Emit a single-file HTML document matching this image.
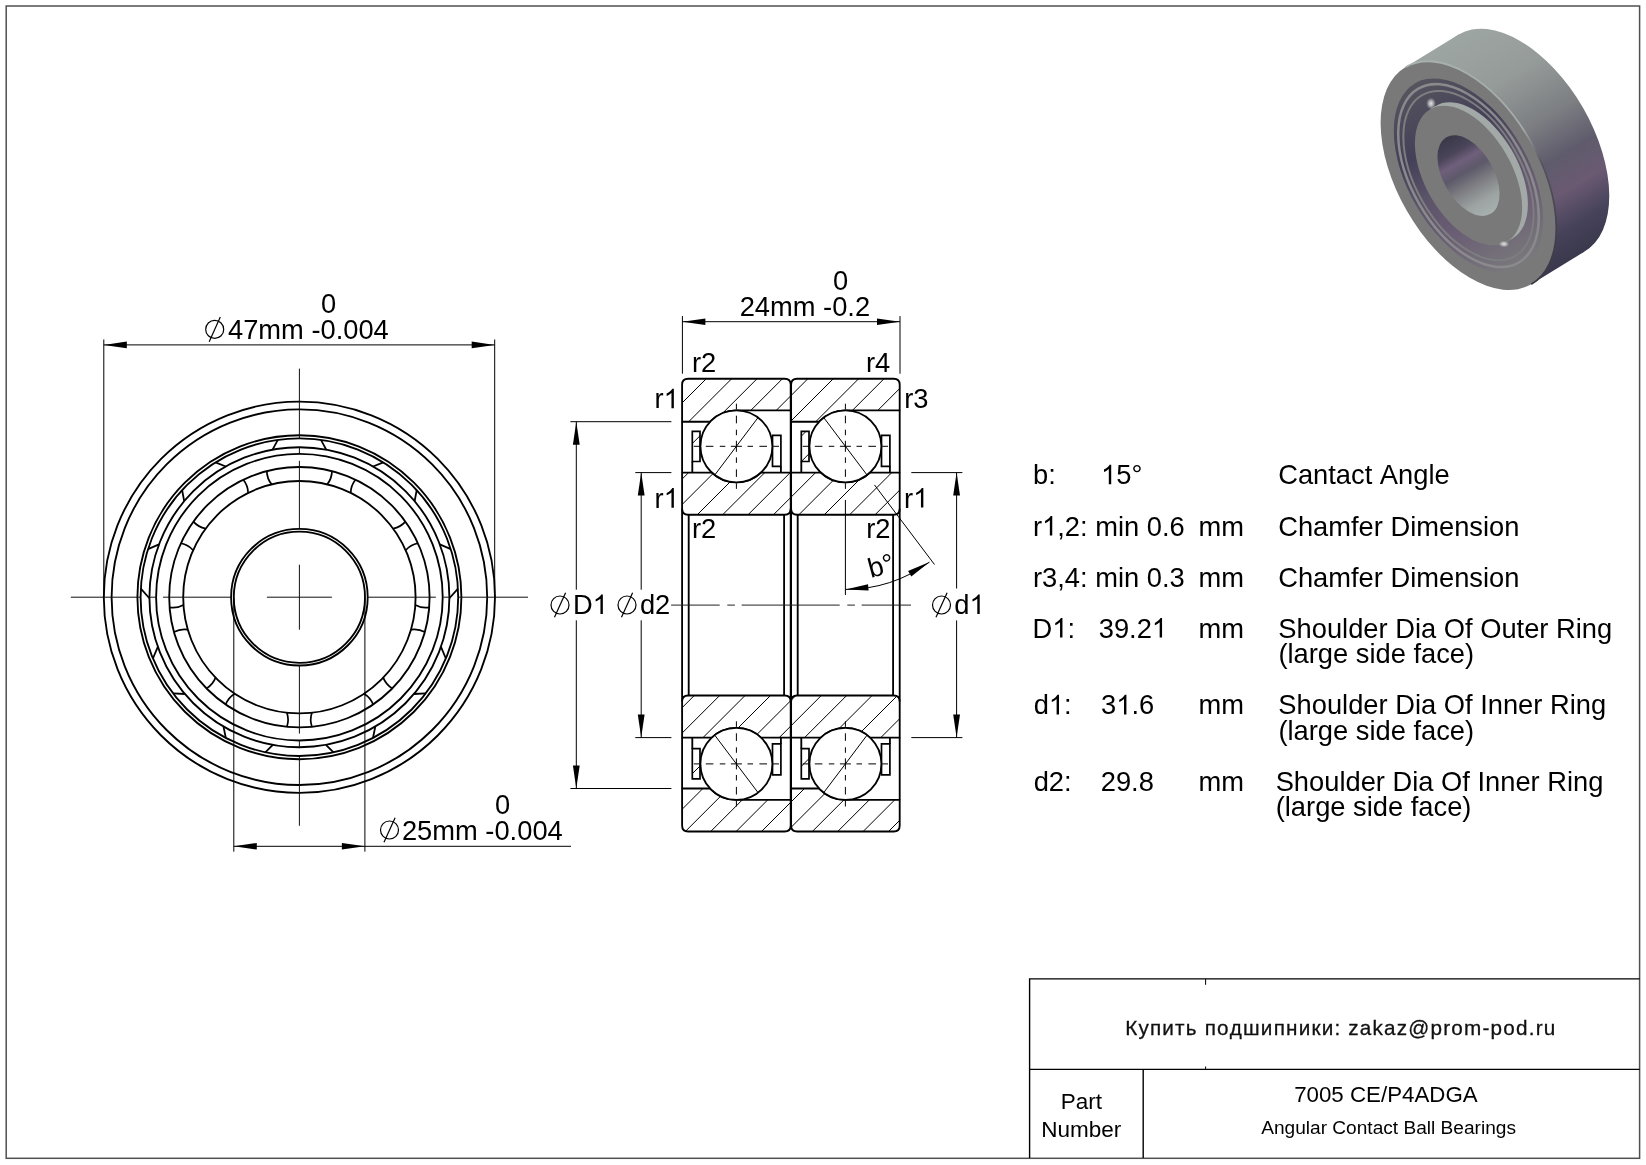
<!DOCTYPE html><html><head><meta charset="utf-8"><title>7005 CE/P4ADGA</title>
<style>html,body{margin:0;padding:0;background:#fff;}body{width:1646px;height:1165px;overflow:hidden;}svg{display:block;will-change:transform;font-kerning:none;font-family:"Liberation Sans",sans-serif;}</style></head><body>
<svg width="1646" height="1165" viewBox="0 0 1646 1165">
<rect x="0" y="0" width="1646" height="1165" fill="#fff"/>
<rect x="6.2" y="6" width="1633.4" height="1152.3" fill="none" stroke="#505050" stroke-width="1.5"/>
<circle cx="299.4" cy="597.2" r="195.6" fill="none" stroke="#000" stroke-width="1.85"/>
<circle cx="299.4" cy="597.2" r="187.8" fill="none" stroke="#000" stroke-width="1.85"/>
<circle cx="299.4" cy="597.2" r="162.0" fill="none" stroke="#000" stroke-width="1.85"/>
<circle cx="299.4" cy="597.2" r="158.8" fill="none" stroke="#000" stroke-width="1.85"/>
<circle cx="299.4" cy="597.2" r="150.0" fill="none" stroke="#000" stroke-width="1.85"/>
<circle cx="299.4" cy="597.2" r="143.3" fill="none" stroke="#000" stroke-width="1.85"/>
<circle cx="299.4" cy="597.2" r="130.2" fill="none" stroke="#000" stroke-width="1.85"/>
<circle cx="299.4" cy="597.2" r="116.2" fill="none" stroke="#000" stroke-width="1.85"/>
<circle cx="299.4" cy="597.2" r="68.3" fill="none" stroke="#000" stroke-width="1.85"/>
<circle cx="299.4" cy="597.2" r="65.6" fill="none" stroke="#000" stroke-width="1.85"/>
<line x1="272.58" y1="449.62" x2="277.85" y2="439.87" stroke="#000" stroke-width="1.8" />
<line x1="225.76" y1="466.52" x2="215.48" y2="462.38" stroke="#000" stroke-width="1.8" />
<line x1="184.16" y1="501.18" x2="182.13" y2="490.12" stroke="#000" stroke-width="1.8" />
<line x1="158.99" y1="544.42" x2="148.03" y2="549.18" stroke="#000" stroke-width="1.8" />
<line x1="149.4" y1="598.25" x2="140.83" y2="588.61" stroke="#000" stroke-width="1.8" />
<line x1="157.83" y1="646.78" x2="152.9" y2="658.48" stroke="#000" stroke-width="1.8" />
<line x1="184.83" y1="694.02" x2="173.08" y2="693.43" stroke="#000" stroke-width="1.8" />
<line x1="223.49" y1="726.58" x2="225.83" y2="737.93" stroke="#000" stroke-width="1.8" />
<line x1="272.84" y1="744.83" x2="265.3" y2="752.3" stroke="#000" stroke-width="1.8" />
<line x1="326.22" y1="449.62" x2="320.95" y2="439.87" stroke="#000" stroke-width="1.8" />
<line x1="373.04" y1="466.52" x2="383.32" y2="462.38" stroke="#000" stroke-width="1.8" />
<line x1="414.64" y1="501.18" x2="416.67" y2="490.12" stroke="#000" stroke-width="1.8" />
<line x1="439.81" y1="544.42" x2="450.77" y2="549.18" stroke="#000" stroke-width="1.8" />
<line x1="449.4" y1="598.25" x2="457.97" y2="588.61" stroke="#000" stroke-width="1.8" />
<line x1="440.97" y1="646.78" x2="445.9" y2="658.48" stroke="#000" stroke-width="1.8" />
<line x1="413.97" y1="694.02" x2="425.72" y2="693.43" stroke="#000" stroke-width="1.8" />
<line x1="375.31" y1="726.58" x2="372.97" y2="737.93" stroke="#000" stroke-width="1.8" />
<line x1="325.96" y1="744.83" x2="333.5" y2="752.3" stroke="#000" stroke-width="1.8" />
<path d="M327.17,484.37 Q331.83,478.57 331.98,471.14" fill="none" stroke="#000" stroke-width="1.7"/>
<path d="M350.66,492.92 Q350.81,485.48 355.47,479.69" fill="none" stroke="#000" stroke-width="1.7"/>
<path d="M393.2,528.61 Q400.49,527.17 405.39,521.58" fill="none" stroke="#000" stroke-width="1.7"/>
<path d="M405.7,550.26 Q410.59,544.67 417.89,543.23" fill="none" stroke="#000" stroke-width="1.7"/>
<path d="M415.34,604.95 Q421.85,608.54 429.2,607.39" fill="none" stroke="#000" stroke-width="1.7"/>
<path d="M411,629.57 Q418.35,628.43 424.86,632.01" fill="none" stroke="#000" stroke-width="1.7"/>
<path d="M383.23,677.66 Q385.92,684.6 392.28,688.44" fill="none" stroke="#000" stroke-width="1.7"/>
<path d="M364.08,693.73 Q370.44,697.58 373.13,704.51" fill="none" stroke="#000" stroke-width="1.7"/>
<path d="M311.9,712.73 Q309.5,719.76 311.9,726.8" fill="none" stroke="#000" stroke-width="1.7"/>
<path d="M286.9,712.73 Q289.3,719.76 286.9,726.8" fill="none" stroke="#000" stroke-width="1.7"/>
<path d="M234.72,693.73 Q228.36,697.58 225.67,704.51" fill="none" stroke="#000" stroke-width="1.7"/>
<path d="M215.57,677.66 Q212.88,684.6 206.52,688.44" fill="none" stroke="#000" stroke-width="1.7"/>
<path d="M187.8,629.57 Q180.45,628.43 173.94,632.01" fill="none" stroke="#000" stroke-width="1.7"/>
<path d="M183.46,604.95 Q176.95,608.54 169.6,607.39" fill="none" stroke="#000" stroke-width="1.7"/>
<path d="M193.1,550.26 Q188.21,544.67 180.91,543.23" fill="none" stroke="#000" stroke-width="1.7"/>
<path d="M205.6,528.61 Q198.31,527.17 193.41,521.58" fill="none" stroke="#000" stroke-width="1.7"/>
<path d="M248.14,492.92 Q247.99,485.48 243.33,479.69" fill="none" stroke="#000" stroke-width="1.7"/>
<path d="M271.63,484.37 Q266.97,478.57 266.82,471.14" fill="none" stroke="#000" stroke-width="1.7"/>
<line x1="367.7" y1="597.2" x2="435.8" y2="597.2" stroke="#111" stroke-width="1.0" />
<line x1="443.4" y1="597.2" x2="449.4" y2="597.2" stroke="#111" stroke-width="1.0" />
<line x1="458.2" y1="597.2" x2="528" y2="597.2" stroke="#111" stroke-width="1.0" />
<line x1="231.1" y1="597.2" x2="163" y2="597.2" stroke="#111" stroke-width="1.0" />
<line x1="155.4" y1="597.2" x2="149.4" y2="597.2" stroke="#111" stroke-width="1.0" />
<line x1="140.6" y1="597.2" x2="70.8" y2="597.2" stroke="#111" stroke-width="1.0" />
<line x1="299.4" y1="665.5" x2="299.4" y2="733.6" stroke="#111" stroke-width="1.0" />
<line x1="299.4" y1="741.2" x2="299.4" y2="747.2" stroke="#111" stroke-width="1.0" />
<line x1="299.4" y1="756" x2="299.4" y2="825.8" stroke="#111" stroke-width="1.0" />
<line x1="299.4" y1="528.9" x2="299.4" y2="460.8" stroke="#111" stroke-width="1.0" />
<line x1="299.4" y1="453.2" x2="299.4" y2="447.2" stroke="#111" stroke-width="1.0" />
<line x1="299.4" y1="438.4" x2="299.4" y2="368.6" stroke="#111" stroke-width="1.0" />
<line x1="266.9" y1="597.2" x2="331.9" y2="597.2" stroke="#111" stroke-width="1.0" />
<line x1="299.4" y1="564.7" x2="299.4" y2="629.7" stroke="#111" stroke-width="1.0" />
<line x1="103.8" y1="339.5" x2="103.8" y2="597.2" stroke="#000" stroke-width="1.0" />
<line x1="494.7" y1="339.5" x2="494.7" y2="597.2" stroke="#000" stroke-width="1.0" />
<line x1="103.8" y1="344.9" x2="494.7" y2="344.9" stroke="#000" stroke-width="1.0" />
<polygon points="103.8,344.9 126.8,341.6 126.8,348.2" fill="#000"/>
<polygon points="494.7,344.9 471.7,348.2 471.7,341.6" fill="#000"/>
<circle cx="214.7" cy="329.4" r="9.0" fill="none" stroke="#000" stroke-width="1.2"/>
<line x1="209.2" y1="341.7" x2="220.3" y2="317.1" stroke="#000" stroke-width="1.2" />
<text x="227.97" y="339" font-size="27.3" fill="#000" >47mm -0.004</text>
<text x="320.93" y="312.9" font-size="27.3" fill="#000" >0</text>
<line x1="233.8" y1="597.2" x2="233.8" y2="851.7" stroke="#000" stroke-width="1.0" />
<line x1="364.9" y1="597.2" x2="364.9" y2="851.7" stroke="#000" stroke-width="1.0" />
<line x1="233.8" y1="846.3" x2="571" y2="846.3" stroke="#000" stroke-width="1.0" />
<polygon points="233.8,846.3 256.8,843 256.8,849.6" fill="#000"/>
<polygon points="364.9,846.3 341.9,849.6 341.9,843" fill="#000"/>
<circle cx="389.5" cy="830" r="9.0" fill="none" stroke="#000" stroke-width="1.2"/>
<line x1="384" y1="842.3" x2="395.1" y2="817.7" stroke="#000" stroke-width="1.2" />
<text x="401.93" y="839.5" font-size="27.3" fill="#000" >25mm -0.004</text>
<text x="494.93" y="813.9" font-size="27.3" fill="#000" >0</text>
<clipPath id="hc1"><path d="M682.1,421.7 L682.1,384.7 Q682.1,378.7 688.1,378.7 L784.7,378.7 Q790.7,378.7 790.7,384.7 L790.7,410.3 L736.4,410.3 A36.0,36.0 0 0 0 710.12,421.7 Z"/></clipPath>
<g clip-path="url(#hc1)" stroke="#000" stroke-width="1">
<line x1="661.3" y1="423.7" x2="708.3" y2="376.7"/>
<line x1="686.7" y1="423.7" x2="733.7" y2="376.7"/>
<line x1="712.1" y1="423.7" x2="759.1" y2="376.7"/>
<line x1="737.5" y1="423.7" x2="784.5" y2="376.7"/>
<line x1="762.9" y1="423.7" x2="809.9" y2="376.7"/>
<line x1="788.3" y1="423.7" x2="835.3" y2="376.7"/>
</g>
<path d="M682.1,421.7 L682.1,384.7 Q682.1,378.7 688.1,378.7 L784.7,378.7 Q790.7,378.7 790.7,384.7 L790.7,410.3 L736.4,410.3 A36.0,36.0 0 0 0 710.12,421.7 Z" fill="none" stroke="#000" stroke-width="1.85" stroke-linejoin="round"/>
<clipPath id="hc2"><path d="M682.1,472.6 L711.82,472.6 A36.0,36.0 0 0 0 760.98,472.6 L790.7,472.6 L790.7,508.7 Q790.7,514.7 784.7,514.7 L688.1,514.7 Q682.1,514.7 682.1,508.7 Z"/></clipPath>
<g clip-path="url(#hc2)" stroke="#000" stroke-width="1">
<line x1="644.5" y1="516.7" x2="690.6" y2="470.6"/>
<line x1="669.9" y1="516.7" x2="716" y2="470.6"/>
<line x1="695.3" y1="516.7" x2="741.4" y2="470.6"/>
<line x1="720.7" y1="516.7" x2="766.8" y2="470.6"/>
<line x1="746.1" y1="516.7" x2="792.2" y2="470.6"/>
<line x1="771.5" y1="516.7" x2="817.6" y2="470.6"/>
</g>
<path d="M682.1,472.6 L711.82,472.6 A36.0,36.0 0 0 0 760.98,472.6 L790.7,472.6 L790.7,508.7 Q790.7,514.7 784.7,514.7 L688.1,514.7 Q682.1,514.7 682.1,508.7 Z" fill="none" stroke="#000" stroke-width="1.85" stroke-linejoin="round"/>
<clipPath id="hc3"><path d="M692.3,431.4 H700 V461.5 H692.3 Z"/></clipPath>
<g clip-path="url(#hc3)" stroke="#000" stroke-width="1">
<line x1="672.3" y1="463.5" x2="706.4" y2="429.4"/>
<line x1="697.7" y1="463.5" x2="731.8" y2="429.4"/>
</g>
<path d="M692.3,431.4 H700 V461.5 H692.3 Z" fill="none" stroke="#000" stroke-width="1.7"/>
<line x1="692.3" y1="461.5" x2="692.3" y2="472.6" stroke="#000" stroke-width="1.85" />
<path d="M772.5,435.3 H780.9 V466.3 H772.5 Z" fill="none" stroke="#000" stroke-width="1.7"/>
<line x1="780.9" y1="466.3" x2="780.9" y2="472.6" stroke="#000" stroke-width="1.85" />
<circle cx="736.4" cy="446.3" r="36.0" fill="#fff" stroke="#000" stroke-width="1.85"/>
<line x1="693.8" y1="446.3" x2="699.4" y2="446.3" stroke="#000" stroke-width="1.0" />
<line x1="736.4" y1="403.7" x2="736.4" y2="409.3" stroke="#000" stroke-width="1.0" />
<line x1="705.8" y1="446.3" x2="713.4" y2="446.3" stroke="#000" stroke-width="1.0" />
<line x1="736.4" y1="415.7" x2="736.4" y2="423.3" stroke="#000" stroke-width="1.0" />
<line x1="719.8" y1="446.3" x2="725.3" y2="446.3" stroke="#000" stroke-width="1.0" />
<line x1="736.4" y1="429.7" x2="736.4" y2="435.2" stroke="#000" stroke-width="1.0" />
<line x1="730.9" y1="446.3" x2="741.9" y2="446.3" stroke="#000" stroke-width="1.0" />
<line x1="736.4" y1="440.8" x2="736.4" y2="451.8" stroke="#000" stroke-width="1.0" />
<line x1="747.5" y1="446.3" x2="753" y2="446.3" stroke="#000" stroke-width="1.0" />
<line x1="736.4" y1="457.4" x2="736.4" y2="462.9" stroke="#000" stroke-width="1.0" />
<line x1="759.4" y1="446.3" x2="767" y2="446.3" stroke="#000" stroke-width="1.0" />
<line x1="736.4" y1="469.3" x2="736.4" y2="476.9" stroke="#000" stroke-width="1.0" />
<line x1="773.4" y1="446.3" x2="779" y2="446.3" stroke="#000" stroke-width="1.0" />
<line x1="736.4" y1="483.3" x2="736.4" y2="488.9" stroke="#000" stroke-width="1.0" />
<line x1="682.1" y1="421.7" x2="682.1" y2="472.6" stroke="#000" stroke-width="1.85" />
<line x1="790.7" y1="410.3" x2="790.7" y2="472.6" stroke="#000" stroke-width="1.85" />
<line x1="682.1" y1="508.7" x2="682.1" y2="701.5" stroke="#000" stroke-width="1.85" />
<line x1="688.7" y1="514.7" x2="688.7" y2="695.5" stroke="#000" stroke-width="1.85" />
<line x1="784.1" y1="514.7" x2="784.1" y2="695.5" stroke="#000" stroke-width="1.85" />
<line x1="790.7" y1="508.7" x2="790.7" y2="701.5" stroke="#000" stroke-width="1.85" />
<clipPath id="hc4"><path d="M682.1,788.5 L682.1,825.5 Q682.1,831.5 688.1,831.5 L784.7,831.5 Q790.7,831.5 790.7,825.5 L790.7,799.9 L736.4,799.9 A36.0,36.0 0 0 1 710.12,788.5 Z"/></clipPath>
<g clip-path="url(#hc4)" stroke="#000" stroke-width="1">
<line x1="657.9" y1="833.5" x2="704.9" y2="786.5"/>
<line x1="683.3" y1="833.5" x2="730.3" y2="786.5"/>
<line x1="708.7" y1="833.5" x2="755.7" y2="786.5"/>
<line x1="734.1" y1="833.5" x2="781.1" y2="786.5"/>
<line x1="759.5" y1="833.5" x2="806.5" y2="786.5"/>
<line x1="784.9" y1="833.5" x2="831.9" y2="786.5"/>
</g>
<path d="M682.1,788.5 L682.1,825.5 Q682.1,831.5 688.1,831.5 L784.7,831.5 Q790.7,831.5 790.7,825.5 L790.7,799.9 L736.4,799.9 A36.0,36.0 0 0 1 710.12,788.5 Z" fill="none" stroke="#000" stroke-width="1.85" stroke-linejoin="round"/>
<clipPath id="hc5"><path d="M682.1,737.6 L711.82,737.6 A36.0,36.0 0 0 1 760.98,737.6 L790.7,737.6 L790.7,701.5 Q790.7,695.5 784.7,695.5 L688.1,695.5 Q682.1,695.5 682.1,701.5 Z"/></clipPath>
<g clip-path="url(#hc5)" stroke="#000" stroke-width="1">
<line x1="650.2" y1="739.6" x2="696.3" y2="693.5"/>
<line x1="675.6" y1="739.6" x2="721.7" y2="693.5"/>
<line x1="701" y1="739.6" x2="747.1" y2="693.5"/>
<line x1="726.4" y1="739.6" x2="772.5" y2="693.5"/>
<line x1="751.8" y1="739.6" x2="797.9" y2="693.5"/>
<line x1="777.2" y1="739.6" x2="823.3" y2="693.5"/>
</g>
<path d="M682.1,737.6 L711.82,737.6 A36.0,36.0 0 0 1 760.98,737.6 L790.7,737.6 L790.7,701.5 Q790.7,695.5 784.7,695.5 L688.1,695.5 Q682.1,695.5 682.1,701.5 Z" fill="none" stroke="#000" stroke-width="1.85" stroke-linejoin="round"/>
<clipPath id="hc6"><path d="M692.3,748.7 H700 V778.8 H692.3 Z"/></clipPath>
<g clip-path="url(#hc6)" stroke="#000" stroke-width="1">
<line x1="685.2" y1="780.8" x2="719.3" y2="746.7"/>
</g>
<path d="M692.3,748.7 H700 V778.8 H692.3 Z" fill="none" stroke="#000" stroke-width="1.7"/>
<line x1="692.3" y1="748.7" x2="692.3" y2="737.6" stroke="#000" stroke-width="1.85" />
<path d="M772.5,743.9 H780.9 V774.9 H772.5 Z" fill="none" stroke="#000" stroke-width="1.7"/>
<line x1="780.9" y1="743.9" x2="780.9" y2="737.6" stroke="#000" stroke-width="1.85" />
<circle cx="736.4" cy="763.9" r="36.0" fill="#fff" stroke="#000" stroke-width="1.85"/>
<line x1="693.8" y1="763.9" x2="699.4" y2="763.9" stroke="#000" stroke-width="1.0" />
<line x1="736.4" y1="721.3" x2="736.4" y2="726.9" stroke="#000" stroke-width="1.0" />
<line x1="705.8" y1="763.9" x2="713.4" y2="763.9" stroke="#000" stroke-width="1.0" />
<line x1="736.4" y1="733.3" x2="736.4" y2="740.9" stroke="#000" stroke-width="1.0" />
<line x1="719.8" y1="763.9" x2="725.3" y2="763.9" stroke="#000" stroke-width="1.0" />
<line x1="736.4" y1="747.3" x2="736.4" y2="752.8" stroke="#000" stroke-width="1.0" />
<line x1="730.9" y1="763.9" x2="741.9" y2="763.9" stroke="#000" stroke-width="1.0" />
<line x1="736.4" y1="758.4" x2="736.4" y2="769.4" stroke="#000" stroke-width="1.0" />
<line x1="747.5" y1="763.9" x2="753" y2="763.9" stroke="#000" stroke-width="1.0" />
<line x1="736.4" y1="775" x2="736.4" y2="780.5" stroke="#000" stroke-width="1.0" />
<line x1="759.4" y1="763.9" x2="767" y2="763.9" stroke="#000" stroke-width="1.0" />
<line x1="736.4" y1="786.9" x2="736.4" y2="794.5" stroke="#000" stroke-width="1.0" />
<line x1="773.4" y1="763.9" x2="779" y2="763.9" stroke="#000" stroke-width="1.0" />
<line x1="736.4" y1="800.9" x2="736.4" y2="806.5" stroke="#000" stroke-width="1.0" />
<line x1="682.1" y1="788.5" x2="682.1" y2="737.6" stroke="#000" stroke-width="1.85" />
<line x1="790.7" y1="799.9" x2="790.7" y2="737.6" stroke="#000" stroke-width="1.85" />
<clipPath id="hc7"><path d="M791.1,421.7 L791.1,384.7 Q791.1,378.7 797.1,378.7 L893.7,378.7 Q899.7,378.7 899.7,384.7 L899.7,410.3 L845.4,410.3 A36.0,36.0 0 0 0 819.12,421.7 Z"/></clipPath>
<g clip-path="url(#hc7)" stroke="#000" stroke-width="1">
<line x1="762.9" y1="423.7" x2="809.9" y2="376.7"/>
<line x1="788.3" y1="423.7" x2="835.3" y2="376.7"/>
<line x1="813.7" y1="423.7" x2="860.7" y2="376.7"/>
<line x1="839.1" y1="423.7" x2="886.1" y2="376.7"/>
<line x1="864.5" y1="423.7" x2="911.5" y2="376.7"/>
<line x1="889.9" y1="423.7" x2="936.9" y2="376.7"/>
</g>
<path d="M791.1,421.7 L791.1,384.7 Q791.1,378.7 797.1,378.7 L893.7,378.7 Q899.7,378.7 899.7,384.7 L899.7,410.3 L845.4,410.3 A36.0,36.0 0 0 0 819.12,421.7 Z" fill="none" stroke="#000" stroke-width="1.85" stroke-linejoin="round"/>
<clipPath id="hc8"><path d="M791.1,472.6 L820.82,472.6 A36.0,36.0 0 0 0 869.98,472.6 L899.7,472.6 L899.7,508.7 Q899.7,514.7 893.7,514.7 L797.1,514.7 Q791.1,514.7 791.1,508.7 Z"/></clipPath>
<g clip-path="url(#hc8)" stroke="#000" stroke-width="1">
<line x1="771.5" y1="516.7" x2="817.6" y2="470.6"/>
<line x1="796.9" y1="516.7" x2="843" y2="470.6"/>
<line x1="822.3" y1="516.7" x2="868.4" y2="470.6"/>
<line x1="847.7" y1="516.7" x2="893.8" y2="470.6"/>
<line x1="873.1" y1="516.7" x2="919.2" y2="470.6"/>
</g>
<path d="M791.1,472.6 L820.82,472.6 A36.0,36.0 0 0 0 869.98,472.6 L899.7,472.6 L899.7,508.7 Q899.7,514.7 893.7,514.7 L797.1,514.7 Q791.1,514.7 791.1,508.7 Z" fill="none" stroke="#000" stroke-width="1.85" stroke-linejoin="round"/>
<clipPath id="hc9"><path d="M801.3,431.4 H809 V461.5 H801.3 Z"/></clipPath>
<g clip-path="url(#hc9)" stroke="#000" stroke-width="1">
<line x1="773.9" y1="463.5" x2="808" y2="429.4"/>
<line x1="799.3" y1="463.5" x2="833.4" y2="429.4"/>
</g>
<path d="M801.3,431.4 H809 V461.5 H801.3 Z" fill="none" stroke="#000" stroke-width="1.7"/>
<line x1="801.3" y1="461.5" x2="801.3" y2="472.6" stroke="#000" stroke-width="1.85" />
<path d="M881.5,435.3 H889.9 V466.3 H881.5 Z" fill="none" stroke="#000" stroke-width="1.7"/>
<line x1="889.9" y1="466.3" x2="889.9" y2="472.6" stroke="#000" stroke-width="1.85" />
<circle cx="845.4" cy="446.3" r="36.0" fill="#fff" stroke="#000" stroke-width="1.85"/>
<line x1="802.8" y1="446.3" x2="808.4" y2="446.3" stroke="#000" stroke-width="1.0" />
<line x1="845.4" y1="403.7" x2="845.4" y2="409.3" stroke="#000" stroke-width="1.0" />
<line x1="814.8" y1="446.3" x2="822.4" y2="446.3" stroke="#000" stroke-width="1.0" />
<line x1="845.4" y1="415.7" x2="845.4" y2="423.3" stroke="#000" stroke-width="1.0" />
<line x1="828.8" y1="446.3" x2="834.3" y2="446.3" stroke="#000" stroke-width="1.0" />
<line x1="845.4" y1="429.7" x2="845.4" y2="435.2" stroke="#000" stroke-width="1.0" />
<line x1="839.9" y1="446.3" x2="850.9" y2="446.3" stroke="#000" stroke-width="1.0" />
<line x1="845.4" y1="440.8" x2="845.4" y2="451.8" stroke="#000" stroke-width="1.0" />
<line x1="856.5" y1="446.3" x2="862" y2="446.3" stroke="#000" stroke-width="1.0" />
<line x1="845.4" y1="457.4" x2="845.4" y2="462.9" stroke="#000" stroke-width="1.0" />
<line x1="868.4" y1="446.3" x2="876" y2="446.3" stroke="#000" stroke-width="1.0" />
<line x1="845.4" y1="469.3" x2="845.4" y2="476.9" stroke="#000" stroke-width="1.0" />
<line x1="882.4" y1="446.3" x2="888" y2="446.3" stroke="#000" stroke-width="1.0" />
<line x1="845.4" y1="483.3" x2="845.4" y2="488.9" stroke="#000" stroke-width="1.0" />
<line x1="791.1" y1="421.7" x2="791.1" y2="472.6" stroke="#000" stroke-width="1.85" />
<line x1="899.7" y1="410.3" x2="899.7" y2="472.6" stroke="#000" stroke-width="1.85" />
<line x1="791.1" y1="508.7" x2="791.1" y2="701.5" stroke="#000" stroke-width="1.85" />
<line x1="797.7" y1="514.7" x2="797.7" y2="695.5" stroke="#000" stroke-width="1.85" />
<line x1="893.1" y1="514.7" x2="893.1" y2="695.5" stroke="#000" stroke-width="1.85" />
<line x1="899.7" y1="508.7" x2="899.7" y2="701.5" stroke="#000" stroke-width="1.85" />
<clipPath id="hc10"><path d="M791.1,788.5 L791.1,825.5 Q791.1,831.5 797.1,831.5 L893.7,831.5 Q899.7,831.5 899.7,825.5 L899.7,799.9 L845.4,799.9 A36.0,36.0 0 0 1 819.12,788.5 Z"/></clipPath>
<g clip-path="url(#hc10)" stroke="#000" stroke-width="1">
<line x1="759.5" y1="833.5" x2="806.5" y2="786.5"/>
<line x1="784.9" y1="833.5" x2="831.9" y2="786.5"/>
<line x1="810.3" y1="833.5" x2="857.3" y2="786.5"/>
<line x1="835.7" y1="833.5" x2="882.7" y2="786.5"/>
<line x1="861.1" y1="833.5" x2="908.1" y2="786.5"/>
<line x1="886.5" y1="833.5" x2="933.5" y2="786.5"/>
</g>
<path d="M791.1,788.5 L791.1,825.5 Q791.1,831.5 797.1,831.5 L893.7,831.5 Q899.7,831.5 899.7,825.5 L899.7,799.9 L845.4,799.9 A36.0,36.0 0 0 1 819.12,788.5 Z" fill="none" stroke="#000" stroke-width="1.85" stroke-linejoin="round"/>
<clipPath id="hc11"><path d="M791.1,737.6 L820.82,737.6 A36.0,36.0 0 0 1 869.98,737.6 L899.7,737.6 L899.7,701.5 Q899.7,695.5 893.7,695.5 L797.1,695.5 Q791.1,695.5 791.1,701.5 Z"/></clipPath>
<g clip-path="url(#hc11)" stroke="#000" stroke-width="1">
<line x1="751.8" y1="739.6" x2="797.9" y2="693.5"/>
<line x1="777.2" y1="739.6" x2="823.3" y2="693.5"/>
<line x1="802.6" y1="739.6" x2="848.7" y2="693.5"/>
<line x1="828" y1="739.6" x2="874.1" y2="693.5"/>
<line x1="853.4" y1="739.6" x2="899.5" y2="693.5"/>
<line x1="878.8" y1="739.6" x2="924.9" y2="693.5"/>
</g>
<path d="M791.1,737.6 L820.82,737.6 A36.0,36.0 0 0 1 869.98,737.6 L899.7,737.6 L899.7,701.5 Q899.7,695.5 893.7,695.5 L797.1,695.5 Q791.1,695.5 791.1,701.5 Z" fill="none" stroke="#000" stroke-width="1.85" stroke-linejoin="round"/>
<clipPath id="hc12"><path d="M801.3,748.7 H809 V778.8 H801.3 Z"/></clipPath>
<g clip-path="url(#hc12)" stroke="#000" stroke-width="1">
<line x1="786.8" y1="780.8" x2="820.9" y2="746.7"/>
</g>
<path d="M801.3,748.7 H809 V778.8 H801.3 Z" fill="none" stroke="#000" stroke-width="1.7"/>
<line x1="801.3" y1="748.7" x2="801.3" y2="737.6" stroke="#000" stroke-width="1.85" />
<path d="M881.5,743.9 H889.9 V774.9 H881.5 Z" fill="none" stroke="#000" stroke-width="1.7"/>
<line x1="889.9" y1="743.9" x2="889.9" y2="737.6" stroke="#000" stroke-width="1.85" />
<circle cx="845.4" cy="763.9" r="36.0" fill="#fff" stroke="#000" stroke-width="1.85"/>
<line x1="802.8" y1="763.9" x2="808.4" y2="763.9" stroke="#000" stroke-width="1.0" />
<line x1="845.4" y1="721.3" x2="845.4" y2="726.9" stroke="#000" stroke-width="1.0" />
<line x1="814.8" y1="763.9" x2="822.4" y2="763.9" stroke="#000" stroke-width="1.0" />
<line x1="845.4" y1="733.3" x2="845.4" y2="740.9" stroke="#000" stroke-width="1.0" />
<line x1="828.8" y1="763.9" x2="834.3" y2="763.9" stroke="#000" stroke-width="1.0" />
<line x1="845.4" y1="747.3" x2="845.4" y2="752.8" stroke="#000" stroke-width="1.0" />
<line x1="839.9" y1="763.9" x2="850.9" y2="763.9" stroke="#000" stroke-width="1.0" />
<line x1="845.4" y1="758.4" x2="845.4" y2="769.4" stroke="#000" stroke-width="1.0" />
<line x1="856.5" y1="763.9" x2="862" y2="763.9" stroke="#000" stroke-width="1.0" />
<line x1="845.4" y1="775" x2="845.4" y2="780.5" stroke="#000" stroke-width="1.0" />
<line x1="868.4" y1="763.9" x2="876" y2="763.9" stroke="#000" stroke-width="1.0" />
<line x1="845.4" y1="786.9" x2="845.4" y2="794.5" stroke="#000" stroke-width="1.0" />
<line x1="882.4" y1="763.9" x2="888" y2="763.9" stroke="#000" stroke-width="1.0" />
<line x1="845.4" y1="800.9" x2="845.4" y2="806.5" stroke="#000" stroke-width="1.0" />
<line x1="791.1" y1="788.5" x2="791.1" y2="737.6" stroke="#000" stroke-width="1.85" />
<line x1="899.7" y1="799.9" x2="899.7" y2="737.6" stroke="#000" stroke-width="1.85" />
<line x1="714.73" y1="475.05" x2="758.07" y2="417.55" stroke="#000" stroke-width="1.0" />
<line x1="714.73" y1="735.15" x2="758.07" y2="792.65" stroke="#000" stroke-width="1.0" />
<line x1="823.73" y1="417.55" x2="867.07" y2="475.05" stroke="#000" stroke-width="1.0" />
<line x1="874.53" y1="484.95" x2="934.47" y2="564.5" stroke="#000" stroke-width="1.0" />
<line x1="823.73" y1="792.65" x2="867.07" y2="735.15" stroke="#000" stroke-width="1.0" />
<line x1="845.4" y1="500" x2="845.4" y2="595" stroke="#000" stroke-width="1.0" />
<path d="M845.4,589.4 A143.1,143.1 0 0 0 929.51,562.07" fill="none" stroke="#000" stroke-width="1"/>
<polygon points="845.4,589.4 868.03,584.2 868.59,590.57" fill="#000"/>
<polygon points="929.51,562.07 911.33,576.51 908.08,571" fill="#000"/>
<text x="0" y="0" font-size="27.3" fill="#000" transform="translate(870.7,578) rotate(-15)">b°</text>
<line x1="671.1" y1="605.1" x2="719.7" y2="605.1" stroke="#222" stroke-width="1.0" />
<line x1="727.3" y1="605.1" x2="734.9" y2="605.1" stroke="#222" stroke-width="1.0" />
<line x1="741.7" y1="605.1" x2="839.7" y2="605.1" stroke="#222" stroke-width="1.0" />
<line x1="847.3" y1="605.1" x2="854.9" y2="605.1" stroke="#222" stroke-width="1.0" />
<line x1="861.7" y1="605.1" x2="911" y2="605.1" stroke="#222" stroke-width="1.0" />
<line x1="570.4" y1="421.7" x2="671.4" y2="421.7" stroke="#000" stroke-width="1.0" />
<line x1="570.4" y1="788.5" x2="671.4" y2="788.5" stroke="#000" stroke-width="1.0" />
<line x1="576.3" y1="421.7" x2="576.3" y2="589.7" stroke="#000" stroke-width="1.0" />
<line x1="576.3" y1="620.3" x2="576.3" y2="788.5" stroke="#000" stroke-width="1.0" />
<polygon points="576.3,421.7 579.7,444.7 572.9,444.7" fill="#000"/>
<polygon points="576.3,788.5 572.9,765.5 579.7,765.5" fill="#000"/>
<line x1="635.3" y1="472.6" x2="671.4" y2="472.6" stroke="#000" stroke-width="1.0" />
<line x1="635.3" y1="737.6" x2="671.4" y2="737.6" stroke="#000" stroke-width="1.0" />
<line x1="641.2" y1="472.6" x2="641.2" y2="589.7" stroke="#000" stroke-width="1.0" />
<line x1="641.2" y1="620.3" x2="641.2" y2="737.6" stroke="#000" stroke-width="1.0" />
<polygon points="641.2,472.6 644.6,495.6 637.8,495.6" fill="#000"/>
<polygon points="641.2,737.6 637.8,714.6 644.6,714.6" fill="#000"/>
<line x1="911.3" y1="472.6" x2="962.4" y2="472.6" stroke="#000" stroke-width="1.0" />
<line x1="911.3" y1="737.6" x2="962.4" y2="737.6" stroke="#000" stroke-width="1.0" />
<line x1="956.6" y1="472.6" x2="956.6" y2="588.5" stroke="#000" stroke-width="1.0" />
<line x1="956.6" y1="620.4" x2="956.6" y2="737.6" stroke="#000" stroke-width="1.0" />
<polygon points="956.6,472.6 960,495.6 953.2,495.6" fill="#000"/>
<polygon points="956.6,737.6 953.2,714.6 960,714.6" fill="#000"/>
<circle cx="560" cy="605" r="9.0" fill="none" stroke="#000" stroke-width="1.2"/>
<line x1="554.5" y1="617.3" x2="565.6" y2="592.7" stroke="#000" stroke-width="1.2" />
<text x="572.96" y="614" font-size="27.3" fill="#000" >D</text>
<path d="M763,0L583,0L583,1147Q518,1085 412,1023Q306,961 222,930L222,1104Q373,1175 486,1276Q599,1377 646,1472L763,1472Z" fill="#000" transform="translate(592.68 614) scale(0.01333 -0.01333)"/>
<circle cx="627" cy="605" r="9.0" fill="none" stroke="#000" stroke-width="1.2"/>
<line x1="621.5" y1="617.3" x2="632.6" y2="592.7" stroke="#000" stroke-width="1.2" />
<text x="639.95" y="614" font-size="27.3" fill="#000" >d2</text>
<circle cx="941.5" cy="605" r="9.0" fill="none" stroke="#000" stroke-width="1.2"/>
<line x1="936" y1="617.3" x2="947.1" y2="592.7" stroke="#000" stroke-width="1.2" />
<text x="954.35" y="614" font-size="27.3" fill="#000" >d</text>
<path d="M763,0L583,0L583,1147Q518,1085 412,1023Q306,961 222,930L222,1104Q373,1175 486,1276Q599,1377 646,1472L763,1472Z" fill="#000" transform="translate(969.54 614) scale(0.01333 -0.01333)"/>
<line x1="682.4" y1="316.1" x2="682.4" y2="373.7" stroke="#000" stroke-width="1.0" />
<line x1="900" y1="316.1" x2="900" y2="373.7" stroke="#000" stroke-width="1.0" />
<line x1="682.4" y1="321.7" x2="900" y2="321.7" stroke="#000" stroke-width="1.0" />
<polygon points="682.4,321.7 705.4,318.4 705.4,325" fill="#000"/>
<polygon points="900,321.7 877,325 877,318.4" fill="#000"/>
<text x="739.63" y="315.7" font-size="27.3" fill="#000" >24mm -0.2</text>
<text x="832.93" y="290.3" font-size="27.3" fill="#000" >0</text>
<text x="691.99" y="371.9" font-size="27.3" fill="#000" >r2</text>
<text x="865.99" y="371.9" font-size="27.3" fill="#000" >r4</text>
<text x="654.59" y="408.3" font-size="27.3" fill="#000" >r</text>
<path d="M763,0L583,0L583,1147Q518,1085 412,1023Q306,961 222,930L222,1104Q373,1175 486,1276Q599,1377 646,1472L763,1472Z" fill="#000" transform="translate(663.68 408.3) scale(0.01333 -0.01333)"/>
<text x="904.29" y="408.3" font-size="27.3" fill="#000" >r3</text>
<text x="654.59" y="507.7" font-size="27.3" fill="#000" >r</text>
<path d="M763,0L583,0L583,1147Q518,1085 412,1023Q306,961 222,930L222,1104Q373,1175 486,1276Q599,1377 646,1472L763,1472Z" fill="#000" transform="translate(663.68 507.7) scale(0.01333 -0.01333)"/>
<text x="904.09" y="507.5" font-size="27.3" fill="#000" >r</text>
<path d="M763,0L583,0L583,1147Q518,1085 412,1023Q306,961 222,930L222,1104Q373,1175 486,1276Q599,1377 646,1472L763,1472Z" fill="#000" transform="translate(913.18 507.5) scale(0.01333 -0.01333)"/>
<text x="691.99" y="538.1" font-size="27.3" fill="#000" >r2</text>
<text x="866.19" y="538.1" font-size="27.3" fill="#000" >r2</text>
<text x="1033.04" y="484.3" font-size="27.3" fill="#000" >b:</text>
<path d="M763,0L583,0L583,1147Q518,1085 412,1023Q306,961 222,930L222,1104Q373,1175 486,1276Q599,1377 646,1472L763,1472Z" fill="#000" transform="translate(1101.04 484.3) scale(0.01333 -0.01333)"/>
<text x="1116.22" y="484.3" font-size="27.3" fill="#000" >5°</text>
<text x="1278.21" y="484.3" font-size="27.3" fill="#000" >Cantact Angle</text>
<text x="1032.99" y="535.6" font-size="27.3" fill="#000" >r</text>
<path d="M763,0L583,0L583,1147Q518,1085 412,1023Q306,961 222,930L222,1104Q373,1175 486,1276Q599,1377 646,1472L763,1472Z" fill="#000" transform="translate(1042.08 535.6) scale(0.01333 -0.01333)"/>
<text x="1057.26" y="535.6" font-size="27.3" fill="#000" >,2: min 0.6</text>
<text x="1198.59" y="535.6" font-size="27.3" fill="#000" >mm</text>
<text x="1278.21" y="535.6" font-size="27.3" fill="#000" >Chamfer Dimension</text>
<text x="1032.99" y="586.6" font-size="27.3" fill="#000" >r3,4: min 0.3</text>
<text x="1198.59" y="586.6" font-size="27.3" fill="#000" >mm</text>
<text x="1278.21" y="586.6" font-size="27.3" fill="#000" >Chamfer Dimension</text>
<text x="1032.56" y="637.6" font-size="27.3" fill="#000" >D</text>
<path d="M763,0L583,0L583,1147Q518,1085 412,1023Q306,961 222,930L222,1104Q373,1175 486,1276Q599,1377 646,1472L763,1472Z" fill="#000" transform="translate(1052.28 637.6) scale(0.01333 -0.01333)"/>
<text x="1067.46" y="637.6" font-size="27.3" fill="#000" >:</text>
<text x="1098.76" y="637.6" font-size="27.3" fill="#000" >39.2</text>
<path d="M763,0L583,0L583,1147Q518,1085 412,1023Q306,961 222,930L222,1104Q373,1175 486,1276Q599,1377 646,1472L763,1472Z" fill="#000" transform="translate(1151.89 637.6) scale(0.01333 -0.01333)"/>
<text x="1198.59" y="637.6" font-size="27.3" fill="#000" >mm</text>
<text x="1278.36" y="637.6" font-size="27.3" fill="#000" >Shoulder Dia Of Outer Ring</text>
<text x="1278.41" y="662.8" font-size="27.3" fill="#000" >(large side face)</text>
<text x="1033.65" y="714.4" font-size="27.3" fill="#000" >d</text>
<path d="M763,0L583,0L583,1147Q518,1085 412,1023Q306,961 222,930L222,1104Q373,1175 486,1276Q599,1377 646,1472L763,1472Z" fill="#000" transform="translate(1048.84 714.4) scale(0.01333 -0.01333)"/>
<text x="1064.02" y="714.4" font-size="27.3" fill="#000" >:</text>
<text x="1101.06" y="714.4" font-size="27.3" fill="#000" >3</text>
<path d="M763,0L583,0L583,1147Q518,1085 412,1023Q306,961 222,930L222,1104Q373,1175 486,1276Q599,1377 646,1472L763,1472Z" fill="#000" transform="translate(1116.24 714.4) scale(0.01333 -0.01333)"/>
<text x="1131.43" y="714.4" font-size="27.3" fill="#000" >.6</text>
<text x="1198.59" y="714.4" font-size="27.3" fill="#000" >mm</text>
<text x="1278.36" y="714.4" font-size="27.3" fill="#000" >Shoulder Dia Of Inner Ring</text>
<text x="1278.41" y="739.6" font-size="27.3" fill="#000" >(large side face)</text>
<text x="1033.65" y="790.9" font-size="27.3" fill="#000" >d2:</text>
<text x="1100.73" y="790.9" font-size="27.3" fill="#000" >29.8</text>
<text x="1198.59" y="790.9" font-size="27.3" fill="#000" >mm</text>
<text x="1275.66" y="790.9" font-size="27.3" fill="#000" >Shoulder Dia Of Inner Ring</text>
<text x="1275.71" y="816.1" font-size="27.3" fill="#000" >(large side face)</text>
<g stroke="#000" stroke-width="1.4" fill="none">
<path d="M1029.6,1158 V978.9 H1639.6"/>
<line x1="1029.6" y1="1069.4" x2="1639.6" y2="1069.4"/>
<line x1="1143.2" y1="1069.4" x2="1143.2" y2="1158"/>
<line x1="1205.6" y1="978.9" x2="1205.6" y2="984.8" stroke-width="1"/>
<line x1="1205.6" y1="1066.5" x2="1205.6" y2="1069.4" stroke-width="1"/>
</g>
<text x="1340.8" y="1035.1" font-size="20.7" fill="#111" stroke="#111" stroke-width="0.3" text-anchor="middle" letter-spacing="1.2">Купить подшипники: zakaz@prom-pod.ru</text>
<text x="1385.9" y="1101.9" font-size="22.3" fill="#000" text-anchor="middle">7005 CE/P4ADGA</text>
<text x="1388.6" y="1133.7" font-size="19.1" fill="#000" text-anchor="middle">Angular Contact Ball Bearings</text>
<text x="1081.3" y="1108.9" font-size="22.5" fill="#000" text-anchor="middle">Part</text>
<text x="1081.3" y="1136.8" font-size="22.5" fill="#000" text-anchor="middle">Number</text>
<defs>
<linearGradient id="gside" gradientUnits="userSpaceOnUse" x1="1435.75" y1="41.91" x2="1571.25" y2="274.29"><stop offset="0" stop-color="#9ea6a3"/><stop offset="0.25" stop-color="#959b99"/><stop offset="0.45" stop-color="#7c7e82"/><stop offset="0.6" stop-color="#5f5b6c"/><stop offset="0.72" stop-color="#6a5a72"/><stop offset="0.85" stop-color="#45425a"/><stop offset="1" stop-color="#363446"/></linearGradient>
<linearGradient id="gbore" gradientUnits="userSpaceOnUse" x1="1445.91" y1="136.47" x2="1491.09" y2="214.73"><stop offset="0" stop-color="#393748"/><stop offset="0.2" stop-color="#4a4559"/><stop offset="0.32" stop-color="#6f5f7b"/><stop offset="0.45" stop-color="#5d596a"/><stop offset="0.62" stop-color="#7d7d82"/><stop offset="0.82" stop-color="#9ca3a2"/><stop offset="1" stop-color="#a9b2b0"/></linearGradient>
<linearGradient id="grec" gradientUnits="userSpaceOnUse" x1="1415.16" y1="83.22" x2="1521.84" y2="267.98"><stop offset="0" stop-color="#55545e"/><stop offset="0.3" stop-color="#444058"/><stop offset="0.5" stop-color="#5c5468"/><stop offset="0.7" stop-color="#6a5d74"/><stop offset="1" stop-color="#7a7a7c"/></linearGradient>
<radialGradient id="ghl"><stop offset="0" stop-color="#e8e8e8"/><stop offset="0.5" stop-color="#c8caca" stop-opacity="0.7"/><stop offset="1" stop-color="#a0a2a2" stop-opacity="0"/></radialGradient>
</defs>
<path d="M1584.15,251.79 A125.5,71 60.0 1 0 1458.65,34.41 A125.5,71 60.0 1 0 1584.15,251.79 Z" fill="url(#gside)" />
<polygon points="1405.75,66.91 1458.65,34.41 1584.15,251.79 1531.25,284.29" fill="url(#gside)"/>
<path d="M1531.25,284.29 A125.5,71 60.0 1 0 1405.75,66.91 A125.5,71 60.0 1 0 1531.25,284.29 Z" fill="#797979" />
<linearGradient id="grim" gradientUnits="userSpaceOnUse" x1="1405.75" y1="66.91" x2="1531.25" y2="284.29"><stop offset="0" stop-color="#a9b2af"/><stop offset="0.45" stop-color="#a3aaa8"/><stop offset="0.6" stop-color="#55535e"/><stop offset="1" stop-color="#3a3944"/></linearGradient>
<path d="M1405.75,66.91 A125.5,71 60.0 0 1 1531.25,284.29" fill="none" stroke="url(#grim)" stroke-width="1.8"/>
<path d="M1521.84,267.98 A106.67,60.35 60.0 1 0 1415.16,83.22 A106.67,60.35 60.0 1 0 1521.84,267.98 Z" fill="url(#grec)" />
<path d="M1518.7,262.55 A100.4,56.8 60.0 1 0 1418.3,88.65 A100.4,56.8 60.0 1 0 1518.7,262.55 Z" fill="none" stroke="#8a8a8c" stroke-width="2.5"/>
<path d="M1514.93,256.03 A92.87,52.54 60.0 1 0 1422.07,95.17 A92.87,52.54 60.0 1 0 1514.93,256.03 Z" fill="none" stroke="#7d7d80" stroke-width="2"/>
<path d="M1512.6,238.32 A76.55,43.31 60.0 1 0 1436.04,105.73 A76.55,43.31 60.0 1 0 1512.6,238.32 Z" fill="#a2a9a7" />
<polygon points="1430.22,109.3 1436.04,105.73 1512.6,238.32 1506.78,241.9" fill="#a2a9a7"/>
<path d="M1506.78,241.9 A76.55,43.31 60.0 1 0 1430.22,109.3 A76.55,43.31 60.0 1 0 1506.78,241.9 Z" fill="#797979" />
<ellipse cx="1431" cy="103.5" rx="5" ry="6" fill="url(#ghl)"/>
<ellipse cx="1504" cy="244" rx="5.5" ry="3.5" fill="url(#ghl)"/>
<path d="M1490.59,213.86 A44.18,24.99 60.0 1 0 1446.41,137.34 A44.18,24.99 60.0 1 0 1490.59,213.86 Z" fill="url(#gbore)" />
</svg></body></html>
